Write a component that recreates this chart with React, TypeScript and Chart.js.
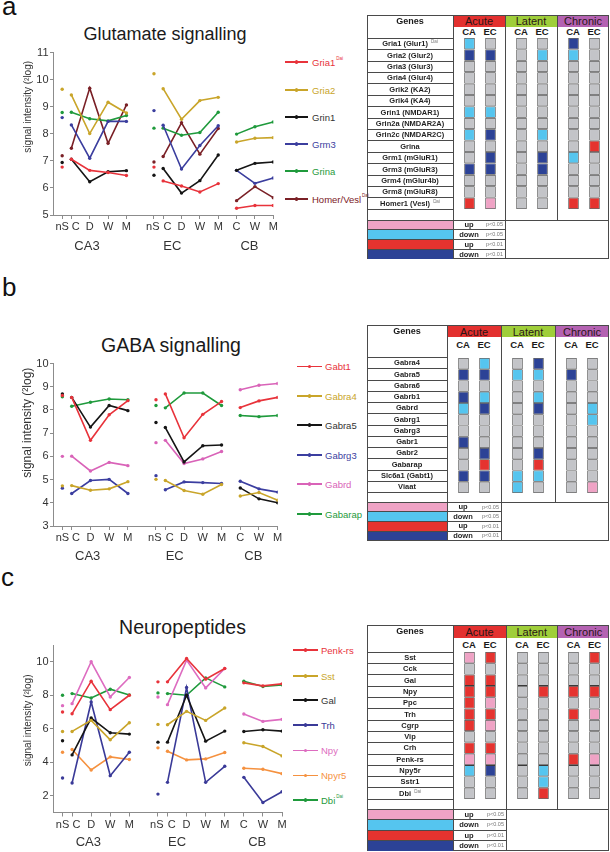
import React, { useEffect, useRef } from 'react';
import { Chart, registerables } from 'chart.js';
Chart.register(...registerables);

const FONT = '"Liberation Sans", Arial, Helvetica, sans-serif';

// ---------------- shared axis categories ----------------
const CA3_TIMES = ['nS', 'C', 'D', 'W', 'M'];
const EC_TIMES = ['nS', 'C', 'D', 'W', 'M'];
const CB_TIMES = ['C', 'W', 'M'];
const REGIONS = ['CA3', 'EC', 'CB'];
// slot index of each time point on the shared x axis
const SLOT = { CA3: [0, 1, 3, 5, 7], EC: [10, 11, 13, 15, 17], CB: [19, 21, 23] };
const REGION_AT = [2.7, 12, 20.4];

// ---------------- a: Glutamate signalling ----------------
const GLU_GENES = ['Gria1', 'Gria2', 'Grin1', 'Grm3', 'Grina', 'Homer/Vesl'];
const GLU_SUP = ['Dai', '', '', '', '', 'Dai'];
const GLU_COLORS = ['#e8333b', '#c9a52a', '#151515', '#3b3e9e', '#1f9a3c', '#7a2026'];
const GLU_CA3 = [
  [6.77, 7.06, 6.65, 6.57, 6.46],
  [9.65, 9.44, 8.01, 9.17, 8.77],
  [6.94, 7.06, 6.23, 6.6, 6.64],
  [8.6, 8.33, 7.1, 8.46, 8.46],
  [8.79, 8.8, 8.56, 8.48, 8.68],
  [7.19, 7.47, 9.69, 7.65, 9.07],
];
const GLU_EC = [
  [6.77, 6.26, 6.07, 5.85, 6.16],
  [10.22, 9.67, 8.54, 9.23, 9.35],
  [6.47, 6.72, 5.81, 6.27, 7.22],
  [8.86, 8.32, 6.7, 7.57, 8.3],
  [8.21, 8.21, 7.95, 8.05, 8.8],
  [6.96, 7.16, 8.41, 7.25, 8.2],
];
const GLU_CB = [
  [5.25, 5.35, 5.35],
  [7.7, 7.84, 7.86],
  [6.65, 6.91, 6.96],
  [6.65, 6.17, 6.37],
  [7.99, 8.26, 8.44],
  [5.53, 6.05, 5.64],
];
const GLU_Y_TICKS = [5, 6, 7, 8, 9, 10, 11];

// ---------------- b: GABA signalling ----------------
const GABA_GENES = ['Gabt1', 'Gabra4', 'Gabra5', 'Gabrg3', 'Gabrd', 'Gabarap'];
const GABA_SUP = ['', '', '', '', '', ''];
const GABA_COLORS = ['#e8333b', '#c9a52a', '#151515', '#3b3ea0', '#d963b8', '#1f9a3c'];
const GABA_CA3 = [
  [8.62, 8.54, 6.69, 7.79, 8.4],
  [4.73, 4.74, 4.54, 4.6, 4.91],
  [8.69, 8.54, 7.26, 8.19, 7.97],
  [4.63, 4.4, 4.96, 5.01, 4.4],
  [6.0, 6.01, 5.37, 5.74, 5.6],
  [8.57, 8.16, 8.33, 8.47, 8.44],
];
const GABA_EC = [
  [8.44, 8.69, 6.8, 7.81, 8.36],
  [5.01, 4.96, 4.53, 4.37, 4.79],
  [7.46, 7.24, 5.76, 6.46, 6.49],
  [5.17, 4.56, 4.9, 4.87, 4.83],
  [6.59, 6.69, 5.69, 5.89, 6.21],
  [8.19, 8.09, 8.73, 8.73, 8.19],
];
const GABA_CB = [
  [8.1, 8.39, 8.54],
  [4.29, 4.44, 4.11],
  [4.64, 4.17, 4.0],
  [4.93, 4.6, 4.46],
  [8.87, 9.06, 9.14],
  [7.76, 7.71, 7.76],
];
const GABA_Y_TICKS = [3, 4, 5, 6, 7, 8, 9, 10];

// ---------------- c: Neuropeptides ----------------
const NP_GENES = ['Penk-rs', 'Sst', 'Gal', 'Trh', 'Npy', 'Npyr5', 'Dbi'];
const NP_SUP = ['', '', '', '', '', '', 'Dai'];
const NP_COLORS = ['#e8333b', '#c9a52a', '#151515', '#3a3a98', '#dd6cc0', '#f5913f', '#1f9a3c'];
const NP_CA3 = [
  [7.0, 6.9, 8.84, 7.14, 8.0],
  [5.84, 5.84, 6.5, 5.34, 6.36],
  [5.28, 4.44, 6.64, 5.76, 5.68],
  [3.06, 2.76, 7.6, 3.2, 4.6],
  [7.38, 7.5, 10.0, 7.9, 9.06],
  [4.6, 4.76, 3.54, 4.32, 4.16],
  [8.0, 8.1, 7.84, 8.36, 8.02],
];
const NP_EC = [
  [8.8, 8.8, 10.2, 8.96, 9.6],
  [6.26, 6.24, 7.04, 6.5, 7.24],
  [5.2, 5.2, 8.0, 5.26, 5.86],
  [2.1, 2.8, 8.46, 2.8, 3.76],
  [7.9, 7.44, 10.1, 8.44, 9.6],
  [4.86, 4.66, 4.14, 4.2, 4.58],
  [8.14, 8.1, 8.0, 9.04, 8.5],
];
const NP_CB = [
  [8.74, 8.56, 8.68],
  [5.16, 4.94, 4.38],
  [5.84, 5.94, 5.86],
  [3.1, 1.6, 2.24],
  [6.88, 6.44, 6.56],
  [3.64, 3.58, 3.32],
  [8.84, 8.52, 8.62],
];
const NP_Y_TICKS = [2, 4, 6, 8, 10];

// ---------------- tables ----------------
// 0 n.s., 1 up p<0.05, 2 down p<0.05, 3 up p<0.01, 4 down p<0.01
const CELL_COLORS = ['#c3c4c8', '#efa3c5', '#55c5ef', '#e5332f', '#2c4296'];
const PHASES = ['Acute', 'Latent', 'Chronic'];
const PHASE_COLORS = ['#e3302f', '#9fce3a', '#b462b2'];
const SUBCOLS = ['CA', 'EC'];
const LEGEND_CODES = [1, 2, 3, 4];
const LEGEND_WORDS = ['up', 'down', 'up', 'down'];
const LEGEND_P = ['p<0.05', 'p<0.05', 'p<0.01', 'p<0.01'];

const GLU_T_GENES = ['Gria1 (Glur1)', 'Gria2 (Glur2)', 'Gria3 (Glur3)', 'Gria4 (Glur4)', 'Grik2 (KA2)', 'Grik4 (KA4)', 'Grin1 (NMDAR1)', 'Grin2a (NMDAR2A)', 'Grin2c (NMDAR2C)', 'Grina', 'Grm1 (mGluR1)', 'Grm3 (mGluR3)', 'Grm4 (mGlur4b)', 'Grm8 (mGluR8)', 'Homer1 (Vesl)'];
const GLU_T_SUP = ['Dai', '', '', '', '', '', '', '', '', '', '', '', '', '', 'Dai'];
const GLU_T_CODES = [
  [2, 0, 0, 0, 4, 0],
  [4, 4, 0, 2, 2, 0],
  [0, 0, 0, 0, 0, 0],
  [0, 0, 0, 0, 0, 0],
  [0, 0, 0, 0, 0, 0],
  [0, 0, 0, 0, 0, 0],
  [2, 2, 0, 0, 0, 0],
  [0, 0, 0, 0, 0, 0],
  [2, 4, 0, 2, 0, 0],
  [0, 0, 0, 0, 0, 3],
  [0, 4, 0, 4, 2, 0],
  [4, 4, 0, 4, 0, 0],
  [0, 0, 0, 0, 0, 0],
  [0, 0, 0, 0, 0, 0],
  [3, 1, 0, 0, 3, 3],
];

const GABA_T_GENES = ['Gabra4', 'Gabra5', 'Gabra6', 'Gabrb1', 'Gabrd', 'Gabrg1', 'Gabrg3', 'Gabr1', 'Gabr2', 'Gabarap', 'Slc6a1 (Gabt1)', 'Viaat'];
const GABA_T_SUP = ['', '', '', '', '', '', '', '', '', '', '', ''];
const GABA_T_CODES = [
  [0, 2, 0, 4, 0, 0],
  [4, 4, 2, 2, 4, 0],
  [0, 0, 0, 0, 0, 0],
  [4, 2, 0, 2, 0, 0],
  [2, 4, 0, 4, 0, 2],
  [0, 0, 0, 0, 0, 2],
  [0, 0, 0, 0, 0, 0],
  [4, 0, 0, 0, 0, 0],
  [0, 4, 0, 4, 0, 0],
  [0, 3, 0, 3, 0, 0],
  [4, 4, 2, 2, 0, 0],
  [0, 0, 2, 0, 0, 1],
];

const NP_T_GENES = ['Sst', 'Cck', 'Gal', 'Npy', 'Ppc', 'Trh', 'Cgrp', 'Vip', 'Crh', 'Penk-rs', 'Npy5r', 'Sstr1', 'Dbi'];
const NP_T_SUP = ['', '', '', '', '', '', '', '', '', '', '', '', 'Dai'];
const NP_T_CODES = [
  [1, 3, 0, 0, 0, 3],
  [0, 0, 0, 0, 0, 0],
  [3, 3, 0, 0, 0, 0],
  [3, 3, 0, 3, 3, 3],
  [3, 1, 0, 0, 0, 0],
  [3, 3, 0, 0, 3, 1],
  [3, 1, 0, 0, 0, 0],
  [0, 0, 0, 0, 0, 0],
  [3, 3, 0, 0, 0, 0],
  [1, 1, 0, 0, 3, 1],
  [2, 4, 0, 2, 0, 0],
  [0, 0, 0, 2, 0, 0],
  [0, 0, 0, 3, 0, 0],
];

// ---------------- layout ----------------
const CHART_A = { plotTop: 52.7, plotBottom: 215, plotRight: 273.3, yMin: 5, yMax: 11, titleAt: 9, titleSize: 10, groupDy: 31 };
const CHART_B = { plotTop: 363.5, plotBottom: 526, plotRight: 277.7, yMin: 3, yMax: 10, titleAt: 7.45, titleSize: 12, groupDy: 30 };
const CHART_C = { plotTop: 645, plotBottom: 812.5, plotRight: 282, yMin: 1, yMax: 11, titleAt: 6.5, titleSize: 10, groupDy: 29.5 };
// label nudges: "nS" and "C" labels are spread apart a little from their ticks
const NS_LABEL_SHIFT = [0, -1.2];
const C_LABEL_SHIFT = 4.3;

const TABLE_A = { left: 367, right: 609, top: 15, headerBottom: 27, subY: 32.3, rowsTop: 38.3, rowH: 11.4, emptyH: 10.7, legendRowH: 9.85, geneRight: 453, phaseX: [453, 505, 557, 609] };
const TABLE_B = { left: 367, right: 609, top: 325, headerBottom: 337.3, subY: 345, rowsTop: 357.7, rowH: 11.25, emptyH: 9.6, legendRowH: 9.6, geneRight: 447, phaseX: [447, 501, 555, 609] };
const TABLE_C = { left: 367, right: 609, top: 625, headerBottom: 638, subY: 645, rowsTop: 652.3, rowH: 11.3, emptyH: 10, legendRowH: 10.5, geneRight: 453, phaseX: [453, 506, 557.5, 609] };

const LEG_A = { x1: 285, x2: 308, tx: 312, ys: [62, 90, 117, 144, 171, 199] };
const LEG_B = { x1: 297, x2: 322, tx: 325, ys: [366.7, 396, 425, 455, 484, 514] };
const LEG_C = { x1: 293, x2: 318, tx: 321, ys: [650, 676, 700, 725, 750.7, 775.7, 800] };

const AXIS_COLOR = '#8c8c8c';
const TEXT_COLOR = '#333';

function LineChart({ lay, genes, colors, ca3, ec, cb, yTicks }: any) {
  const ref = useRef<HTMLCanvasElement>(null);
  const xAxisH = 20;
  const canvasTop = Math.floor(lay.plotTop) - 10;
  const canvasH = Math.round(lay.plotBottom - canvasTop + xAxisH + 26);
  const canvasW = Math.round(lay.plotRight + 8);
  const padTop = lay.plotTop - canvasTop;
  const padBottom = canvasH - (lay.plotBottom - canvasTop) - xAxisH;
  const padRight = canvasW - lay.plotRight;

  useEffect(() => {
    const ticks: { v: number; t: string; shift: number }[] = [];
    const shiftFor = (k: number, grp: number) => (k === 0 ? NS_LABEL_SHIFT[grp] : k === 1 ? C_LABEL_SHIFT : 0);
    SLOT.CA3.forEach((s, k) => ticks.push({ v: s, t: CA3_TIMES[k], shift: shiftFor(k, 0) }));
    SLOT.EC.forEach((s, k) => ticks.push({ v: s, t: EC_TIMES[k], shift: shiftFor(k, 1) }));
    SLOT.CB.forEach((s, k) => ticks.push({ v: s, t: CB_TIMES[k], shift: 0 }));

    const datasets: any[] = [];
    genes.forEach((g: string, i: number) => {
      const c = colors[i];
      const base = {
        borderColor: c, backgroundColor: c, pointBackgroundColor: c, pointBorderColor: c,
        pointRadius: 1.7, pointBorderWidth: 0, pointHoverRadius: 0, borderWidth: 1.6, tension: 0,
      };
      datasets.push({ ...base, label: g + ' nS', showLine: false,
        data: [{ x: SLOT.CA3[0], y: ca3[i][0] }, { x: SLOT.EC[0], y: ec[i][0] }] });
      datasets.push({ ...base, label: g + ' CA3',
        data: SLOT.CA3.slice(1).map((x, k) => ({ x, y: ca3[i][k + 1] })) });
      datasets.push({ ...base, label: g + ' EC',
        data: SLOT.EC.slice(1).map((x, k) => ({ x, y: ec[i][k + 1] })) });
      datasets.push({ ...base, label: g + ' CB',
        data: SLOT.CB.map((x, k) => ({ x, y: cb[i][k] })) });
    });

    const annot = {
      id: 'annot',
      afterDraw(chart: any) {
        const { ctx, chartArea } = chart;
        const xs = chart.scales.x, ys = chart.scales.y;
        ctx.save();
        ctx.fillStyle = TEXT_COLOR;
        ctx.textAlign = 'center';
        ctx.textBaseline = 'middle';
        ctx.font = `11px ${FONT}`;
        ticks.forEach((tk) => ctx.fillText(tk.t, xs.getPixelForValue(tk.v) + tk.shift, chartArea.bottom + 12));
        ctx.font = `13px ${FONT}`;
        REGIONS.forEach((r, k) => ctx.fillText(r, xs.getPixelForValue(REGION_AT[k]), chartArea.bottom + lay.groupDy));
        ctx.translate(28, ys.getPixelForValue(lay.titleAt));
        ctx.rotate(-Math.PI / 2);
        ctx.font = `${lay.titleSize}px ${FONT}`;
        ctx.fillText('signal intensity (\u00B2log)', 0, 0);
        ctx.restore();
      },
    };

    const chart = new Chart(ref.current as HTMLCanvasElement, {
      type: 'line',
      data: { datasets },
      plugins: [annot],
      options: {
        animation: false,
        responsive: false,
        events: [],
        layout: { padding: { top: padTop, right: padRight, bottom: padBottom, left: 0 } },
        plugins: { legend: { display: false }, tooltip: { enabled: false } },
        scales: {
          x: {
            type: 'linear', min: -1, max: 23,
            afterBuildTicks: (s: any) => { s.ticks = ticks.map((tk) => ({ value: tk.v })); },
            afterFit: (s: any) => { s.height = xAxisH; },
            ticks: { display: false, autoSkip: false, maxRotation: 0 },
            grid: { drawOnChartArea: false, drawTicks: true, tickLength: 4, color: AXIS_COLOR },
            border: { color: AXIS_COLOR, width: 1 },
          },
          y: {
            type: 'linear', min: lay.yMin, max: lay.yMax,
            afterBuildTicks: (s: any) => { s.ticks = yTicks.map((v: number) => ({ value: v })); },
            afterFit: (s: any) => { s.width = 53; },
            ticks: { padding: 1.5, color: TEXT_COLOR, font: { family: FONT, size: 11 } },
            grid: { drawOnChartArea: false, tickLength: 3, color: AXIS_COLOR },
            border: { color: AXIS_COLOR, width: 1 },
          },
        },
      } as any,
    });
    return () => chart.destroy();
  }, []);

  return (
    <canvas ref={ref} width={canvasW} height={canvasH}
      style={{ position: 'absolute', left: 0, top: canvasTop, width: canvasW, height: canvasH }} />
  );
}

function CellChart({ codes, left, top, width, height }: any) {
  const ref = useRef<HTMLCanvasElement>(null);
  useEffect(() => {
    const n = codes.length;
    const datasets = codes.map((row: number[], r: number) => ({
      label: 'row' + r,
      data: [[r, r + 1], [r, r + 1]],
      backgroundColor: row.map((c) => CELL_COLORS[c]),
      borderColor: '#3a3a3a',
      borderWidth: 0.85,
      borderSkipped: false,
      inflateAmount: 0,
      grouped: false,
      barPercentage: 0.5,
      categoryPercentage: 1,
    }));
    const chart = new Chart(ref.current as HTMLCanvasElement, {
      type: 'bar',
      data: { labels: SUBCOLS, datasets },
      options: {
        animation: false, responsive: false, events: [],
        layout: { padding: 0 },
        plugins: { legend: { display: false }, tooltip: { enabled: false } },
        scales: {
          x: { display: false, offset: true },
          y: { display: false, min: 0, max: n, reverse: true },
        },
      } as any,
    });
    return () => chart.destroy();
  }, []);
  return (
    <canvas ref={ref} width={width} height={height}
      style={{ position: 'absolute', left, top, width, height }} />
  );
}

const LINE = '#4a4a4a';
function HL({ x1, x2, y }: any) {
  return <div style={{ position: 'absolute', left: x1, top: y - 0.5, width: x2 - x1, height: 1, background: LINE }} />;
}
function VL({ x, y1, y2 }: any) {
  return <div style={{ position: 'absolute', left: x - 0.5, top: y1, width: 1, height: y2 - y1, background: LINE }} />;
}
function Txt({ x, y, w, children, size, bold, color, align }: any) {
  const h = size * 1.3;
  return (
    <div style={{
      position: 'absolute', left: align === 'left' ? x : x - w / 2, top: y - h / 2, width: w, height: h,
      lineHeight: h + 'px', fontSize: size, fontWeight: bold ? 'bold' : 'normal', color: color || '#222',
      fontFamily: FONT, textAlign: align || 'center', whiteSpace: 'nowrap',
    }}>{children}</div>
  );
}

function GeneTable({ g, genes, sups, codes }: any) {
  const n = genes.length;
  const rowsBottom = g.rowsTop + n * g.rowH;
  const legendTop = rowsBottom + g.emptyH;
  const bottom = legendTop + 4 * g.legendRowH;
  const geneW = g.geneRight - g.left;
  const geneCx = (g.left + g.geneRight) / 2;
  const els: any[] = [];
  let k = 0;
  PHASES.forEach((p, i) => {
    const x1 = g.phaseX[i], x2 = g.phaseX[i + 1];
    els.push(<div key={k++} style={{ position: 'absolute', left: x1, top: g.top, width: x2 - x1, height: g.headerBottom - g.top, background: PHASE_COLORS[i] }} />);
    els.push(<Txt key={k++} x={(x1 + x2) / 2} y={(g.top + g.headerBottom) / 2 + 0.5} w={x2 - x1} size={11} color="#2a1616">{p}</Txt>);
    SUBCOLS.forEach((s, j) => {
      els.push(<Txt key={k++} x={x1 + (j === 0 ? 16 : 37)} y={g.subY} w={20} size={9.5} bold color="#1a1a1a">{s}</Txt>);
    });
    els.push(
      <CellChart key={k++} codes={codes.map((r: number[]) => [r[2 * i], r[2 * i + 1]])}
        left={Math.round(x1 + 5.5)} top={Math.round(g.rowsTop)} width={42} height={Math.round(n * g.rowH)} />
    );
  });
  els.push(<div key={k++} style={{ position: 'absolute', left: g.left, top: g.top, width: g.right - g.left, height: bottom - g.top, border: '1px solid ' + LINE, boxSizing: 'border-box' }} />);
  els.push(<VL key={k++} x={g.geneRight} y1={g.top} y2={bottom} />);
  els.push(<VL key={k++} x={g.phaseX[1]} y1={g.top} y2={bottom} />);
  els.push(<VL key={k++} x={g.phaseX[2]} y1={g.top} y2={legendTop} />);
  els.push(<HL key={k++} x1={g.left} x2={g.right} y={legendTop} />);
  els.push(<Txt key={k++} x={geneCx} y={g.top + 6.5} w={geneW} size={9} bold color="#1a1a1a">Genes</Txt>);
  for (let i = 0; i <= n; i++) {
    els.push(<HL key={k++} x1={g.left} x2={g.geneRight} y={g.rowsTop + i * g.rowH} />);
  }
  genes.forEach((name: string, i: number) => {
    els.push(
      <Txt key={k++} x={geneCx} y={g.rowsTop + (i + 0.5) * g.rowH} w={geneW} size={7.5} bold color="#1e1e1e">
        {name}{sups[i] ? <span style={{ fontSize: 4.5, fontWeight: 'normal', color: '#777', position: 'relative', top: -3, marginLeft: 3 }}>{sups[i]}</span> : null}
      </Txt>
    );
  });
  LEGEND_CODES.forEach((c, i) => {
    const y0 = legendTop + i * g.legendRowH;
    els.push(<div key={k++} style={{ position: 'absolute', left: g.left + 1, top: y0 + 0.5, width: geneW - 1.5, height: g.legendRowH - 1, background: CELL_COLORS[c] }} />);
    if (i > 0) els.push(<HL key={k++} x1={g.left} x2={g.phaseX[1]} y={y0} />);
    els.push(<Txt key={k++} x={g.geneRight + 16} y={y0 + g.legendRowH / 2} w={30} size={7.5} bold color="#1e1e1e">{LEGEND_WORDS[i]}</Txt>);
    els.push(<Txt key={k++} x={g.phaseX[1] - 10.5} y={y0 + g.legendRowH / 2} w={22} size={5.5} color="#777">{LEGEND_P[i]}</Txt>);
  });
  return <>{els}</>;
}

function Legend({ lg, genes, sups, colors }: any) {
  return (
    <>
      {genes.map((gname: string, i: number) => {
        const y = lg.ys[i];
        const c = colors[i];
        return (
          <React.Fragment key={gname}>
            <div style={{ position: 'absolute', left: lg.x1, top: y - 0.75, width: lg.x2 - lg.x1, height: 1.5, background: c }} />
            <div style={{ position: 'absolute', left: (lg.x1 + lg.x2) / 2 - 1.75, top: y - 1.75, width: 3.5, height: 3.5, borderRadius: '50%', background: c }} />
            <div style={{ position: 'absolute', left: lg.tx, top: y - 6.5, lineHeight: '13px', fontSize: 9.5, fontFamily: FONT, color: c === '#151515' ? '#333' : c, whiteSpace: 'nowrap' }}>
              {gname}
              {sups[i] ? <span style={{ fontSize: 4.5, position: 'relative', top: -6, marginLeft: 1 }}>{sups[i]}</span> : null}
            </div>
          </React.Fragment>
        );
      })}
    </>
  );
}

function Title({ cx, baseline, size, children }: any) {
  return (
    <div style={{ position: 'absolute', left: cx - 150, width: 300, top: baseline - size * 0.87, lineHeight: size + 'px', fontSize: size, fontFamily: FONT, color: '#1a1a1a', textAlign: 'center', whiteSpace: 'nowrap' }}>{children}</div>
  );
}
function PanelLetter({ x, baseline, children }: any) {
  return (
    <div style={{ position: 'absolute', left: x, top: baseline - 22.5, lineHeight: '26px', fontSize: 26, fontFamily: FONT, color: '#111' }}>{children}</div>
  );
}

export default function App() {
  return (
    <div style={{ position: 'fixed', left: 0, top: 0, width: 610, height: 852, background: '#fff', overflow: 'hidden' }}>
      <PanelLetter x={2} baseline={15}>a</PanelLetter>
      <PanelLetter x={2} baseline={296.7}>b</PanelLetter>
      <PanelLetter x={1} baseline={586}>c</PanelLetter>

      <Title cx={165} baseline={40.7} size={18}>Glutamate signalling</Title>
      <Title cx={171} baseline={352.7} size={19.5}>GABA signalling</Title>
      <Title cx={182.5} baseline={635} size={19.5}>Neuropeptides</Title>

      <LineChart lay={CHART_A} genes={GLU_GENES} colors={GLU_COLORS} ca3={GLU_CA3} ec={GLU_EC} cb={GLU_CB} yTicks={GLU_Y_TICKS} />
      <LineChart lay={CHART_B} genes={GABA_GENES} colors={GABA_COLORS} ca3={GABA_CA3} ec={GABA_EC} cb={GABA_CB} yTicks={GABA_Y_TICKS} />
      <LineChart lay={CHART_C} genes={NP_GENES} colors={NP_COLORS} ca3={NP_CA3} ec={NP_EC} cb={NP_CB} yTicks={NP_Y_TICKS} />

      <Legend lg={LEG_A} genes={GLU_GENES} sups={GLU_SUP} colors={GLU_COLORS} />
      <Legend lg={LEG_B} genes={GABA_GENES} sups={GABA_SUP} colors={GABA_COLORS} />
      <Legend lg={LEG_C} genes={NP_GENES} sups={NP_SUP} colors={NP_COLORS} />

      <GeneTable g={TABLE_A} genes={GLU_T_GENES} sups={GLU_T_SUP} codes={GLU_T_CODES} />
      <GeneTable g={TABLE_B} genes={GABA_T_GENES} sups={GABA_T_SUP} codes={GABA_T_CODES} />
      <GeneTable g={TABLE_C} genes={NP_T_GENES} sups={NP_T_SUP} codes={NP_T_CODES} />
    </div>
  );
}
